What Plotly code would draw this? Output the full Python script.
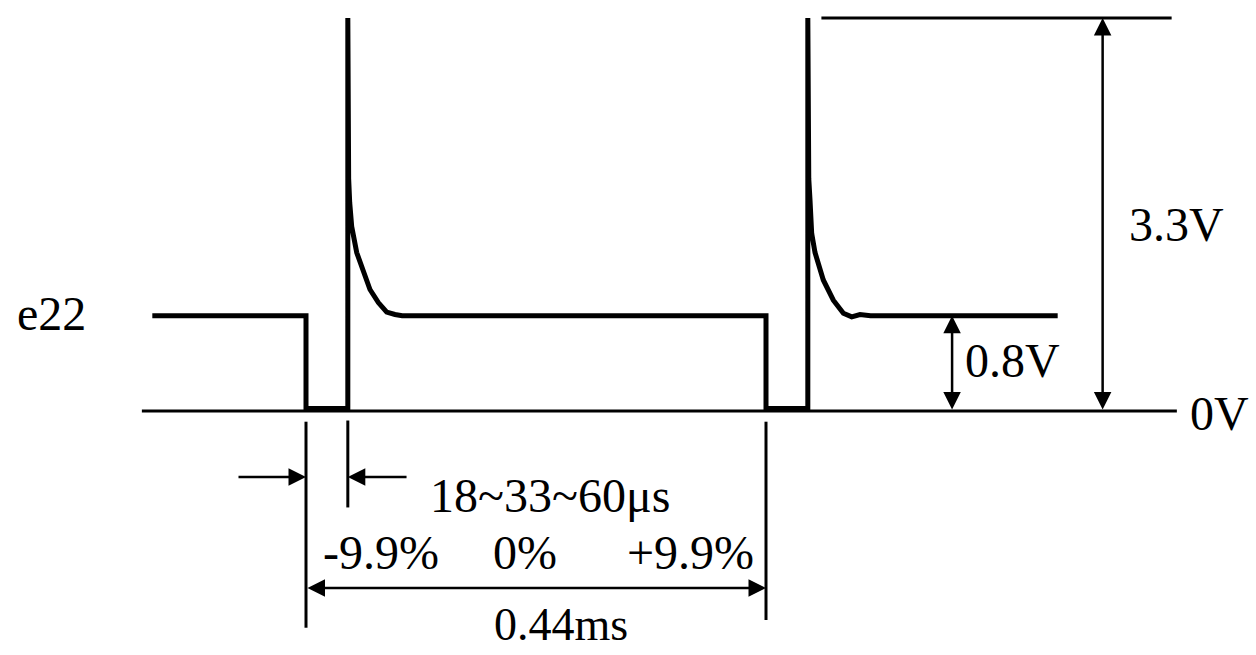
import plotly.graph_objects as go

# ---- waveform data (time in microseconds, voltage in volts) ----
t_us = [-147, 0, 0, 40, 40, 40.3, 40.8, 41.8, 43.7, 48.5, 54.8, 61.2, 69.2, 77.2, 85.1, 92,
        440, 440, 480, 480, 480.3, 480.9, 482.1, 483.7, 486.9, 494.8, 504.4, 514, 522, 529.9, 540, 719]
volts = [0.8, 0.8, 0.02, 0.02, 3.3, 2.3, 1.95, 1.75, 1.55, 1.33, 1.16, 1.02, 0.91, 0.83, 0.81, 0.8,
         0.8, 0.02, 0.02, 3.3, 2.3, 1.95, 1.77, 1.49, 1.33, 1.10, 0.93, 0.82, 0.79, 0.81, 0.8, 0.8]

# ---- reference values ----
levels_v = [0.0, 0.8, 3.3]          # 0V, high level, spike peak
period_us = 440                      # 0.44 ms
low_us = 40                          # low pulse width drawn
level_labels = ["0V", "0.8V", "3.3V"]
signal_label = "e22"
pulse_label = "18~33~60μs"
tol_labels = ["-9.9%", "0%", "+9.9%"]
period_label = "0.44ms"

FONT = "Liberation Serif"
FS = 48
BLACK = "#000000"

fig = go.Figure()
fig.add_trace(go.Scatter(x=t_us, y=volts, mode="lines",
                         line=dict(color=BLACK, width=5), hoverinfo="skip", showlegend=False))

shapes = []
def seg(x0, y0, x1, y1, w=3):
    shapes.append(dict(type="line", xref="x", yref="y", x0=x0, y0=y0, x1=x1, y1=y1,
                       line=dict(color=BLACK, width=w)))

# baseline 0V
seg(-157, levels_v[0], 833, levels_v[0])
# 3.3 V reference line
seg(493, levels_v[2], 828, levels_v[2])
# extension lines below
seg(0, -0.09, 0, -1.82)
seg(low_us, -0.08, low_us, -0.81)
seg(period_us, -0.09, period_us, -1.755)

ann = []
def arrow(x, y, ax, ay, both=False):
    ann.append(dict(x=x, y=y, ax=ax, ay=ay, xref="x", yref="y", axref="x", ayref="y",
                    text="", showarrow=True, arrowhead=2, arrowsize=1.4, arrowwidth=2.5,
                    arrowcolor=BLACK, standoff=0, startstandoff=0, startarrowhead=2,
                    startarrowsize=1.4, arrowside="end+start" if both else "end"))

arrow(762, levels_v[2], 762, levels_v[0], both=True)
arrow(618, levels_v[1], 618, levels_v[0], both=True)
arrow(period_us, -1.486, 0, -1.486, both=True)
arrow(0, -0.554, -66, -0.554)
arrow(low_us, -0.554, 97.6, -0.554)

def label(txt, x, y, size=FS):
    ann.append(dict(x=x, y=y, xref="x", yref="y", text=txt, showarrow=False,
                    xanchor="center", yanchor="middle",
                    font=dict(family=FONT, size=size, color=BLACK)))

label(signal_label, -243, 0.82)
label(level_labels[2], 833, 1.57)
label(level_labels[1], 676, 0.42)
label(level_labels[0], 874, -0.02)
label(pulse_label, 233, -0.71)
label(tol_labels[0], 72, -1.19)
label(tol_labels[1], 209.5, -1.19)
label(tol_labels[2], 368, -1.19)
label(period_label, 244, -1.79, size=46)

fig.update_layout(
    width=1256, height=655,
    margin=dict(l=0, r=0, t=0, b=0),
    paper_bgcolor="white", plot_bgcolor="white",
    xaxis=dict(range=[-292.7, 908.7], visible=False, fixedrange=True),
    yaxis=dict(range=[-2.049, 3.451], visible=False, fixedrange=True),
    shapes=shapes, annotations=ann, showlegend=False,
)

fig.write_html("out.html", config={"displayModeBar": False},
               post_script="document.body.style.margin='0px';document.body.style.overflow='hidden';")
